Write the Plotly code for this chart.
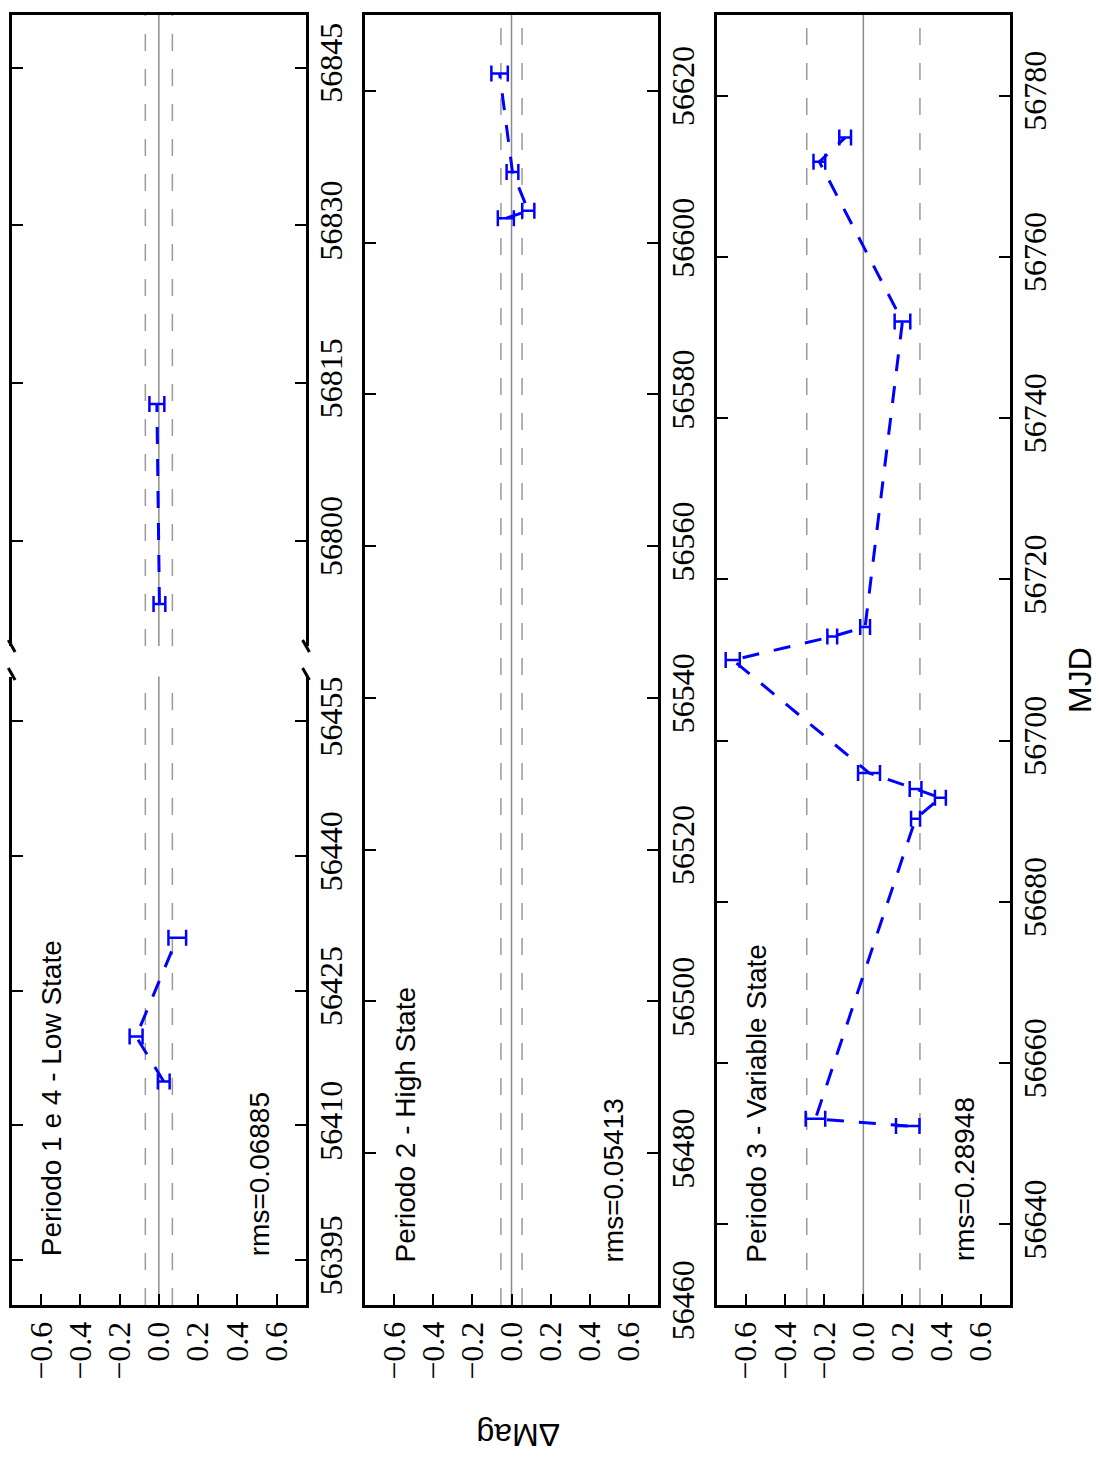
import plotly.graph_objects as go

# ---------------- data ----------------
# Periodo 1 e 4 (broken MJD axis)
p1_mjd = [56414.9, 56419.9, 56430.9]
p1_dmag = [0.025, -0.116, 0.094]
p1_err = [0.030, 0.033, 0.045]

p4_mjd = [56794.0, 56813.0]
p4_dmag = [0.003, -0.010]
p4_err = [0.030, 0.038]

# Periodo 2
p2_mjd = [56603.2, 56604.2, 56609.3, 56622.3]
p2_dmag = [-0.029, 0.086, 0.005, -0.061]
p2_err = [0.041, 0.031, 0.030, 0.042]

# Periodo 3
p3_mjd = [56652.2, 56653.1, 56690.3, 56692.9, 56694.0, 56696.0,
          56710.0, 56712.9, 56714.1, 56752.0, 56771.8, 56774.8]
p3_dmag = [0.227, -0.245, 0.267, 0.394, 0.267, 0.029,
           -0.668, -0.159, 0.009, 0.200, -0.225, -0.093]
p3_err = [0.060, 0.050, 0.023, 0.028, 0.030, 0.056,
          0.036, 0.025, 0.025, 0.040, 0.030, 0.030]

rms_values = [0.06885, 0.05413, 0.28948]
panel_titles = ["Periodo 1 e 4 - Low State", "Periodo 2 - High State", "Periodo 3 - Variable State"]
rms_labels = ["rms=0.06885", "rms=0.05413", "rms=0.28948"]

dmag_ticks = [-0.6, -0.4, -0.2, 0.0, 0.2, 0.4, 0.6]
mjd_ticks_low = [56395, 56410, 56425, 56440, 56455]
mjd_ticks_high = [56800, 56815, 56830, 56845]
mjd_ticks_p2 = [56460, 56480, 56500, 56520, 56540, 56560, 56580, 56600, 56620]
mjd_ticks_p3 = [56640, 56660, 56680, 56700, 56720, 56740, 56760, 56780]

range_low = [56390, 56460]
range_high = [56790, 56850]
range_p2 = [56460, 56630]
range_p3 = [56630, 56790]
dmag_range = [-0.75, 0.75]

# ---------------- layout helpers ----------------
W, H = 1099, 1457
def px(x):
    return x / W
def py(y):
    return 1 - y / H

col1 = [px(11.7), px(306)]
col2 = [px(365), px(658)]
col3 = [px(716.7), px(1010)]
yfull = [py(1305), py(15)]
ylow = [py(1305), py(676.5)]
yhigh = [py(646), py(15)]

BLUE = "#0000ff"
TICKFONT = dict(family="Liberation Serif", size=32, color="black")
TEXTFONT = dict(family="Liberation Sans", size=28, color="black")

fig = go.Figure()

def add_series(x, y, err, xa, ya):
    fig.add_trace(go.Scatter(
        x=x, y=y, xaxis=xa, yaxis=ya, mode="lines",
        line=dict(color=BLUE, width=3, dash="17px,15px"),
        error_x=dict(type="data", array=err, visible=True, color=BLUE,
                     thickness=2.5, width=8),
        showlegend=False, hoverinfo="skip"))

add_series(p1_dmag, p1_mjd, p1_err, "x", "y")
add_series(p4_dmag, p4_mjd, p4_err, "x2", "y2")
add_series(p2_dmag, p2_mjd, p2_err, "x3", "y3")
add_series(p3_dmag, p3_mjd, p3_err, "x4", "y4")

def xaxis(domain, anchor, mirror=True, show=True, side="bottom"):
    return dict(domain=domain, anchor=anchor, range=dmag_range, side=side,
                automargin=False,
                showgrid=False, zeroline=False, showline=True, linewidth=3,
                linecolor="black", mirror=mirror,
                ticks="inside" if show else "", ticklen=11, tickwidth=1.5,
                tickcolor="black", tickvals=dmag_ticks,
                ticktext=[("\u2212" if v < 0 else "") + f"{abs(v):.1f}" for v in dmag_ticks],
                tickangle=-90, tickfont=TICKFONT, showticklabels=show,
                ticklabelstandoff=1)

def yaxis(domain, anchor, rng, ticks):
    return dict(domain=domain, anchor=anchor, range=rng, side="right",
                automargin=False,
                showgrid=False, zeroline=False, showline=True, linewidth=3,
                linecolor="black", mirror="ticks", ticks="inside", ticklen=11,
                tickwidth=1.5, tickcolor="black", tickvals=ticks,
                ticktext=[str(t) for t in ticks], tickangle=-90,
                tickfont=TICKFONT, ticklabelstandoff=-5)

fig.update_layout(
    template="none",
    width=W, height=H, margin=dict(l=0, r=0, t=0, b=0, pad=0, autoexpand=False),
    paper_bgcolor="white", plot_bgcolor="white",
    xaxis=xaxis(col1, "y", mirror=False),
    yaxis=yaxis(ylow, "x", range_low, mjd_ticks_low),
    xaxis2=xaxis(col1, "y2", mirror=False, show=False, side="top"),
    yaxis2=yaxis(yhigh, "x2", range_high, mjd_ticks_high),
    xaxis3=xaxis(col2, "y3"),
    yaxis3=yaxis(yfull, "x3", range_p2, mjd_ticks_p2),
    xaxis4=xaxis(col3, "y4"),
    yaxis4=yaxis(yfull, "x4", range_p3, mjd_ticks_p3),
)

# reference lines (zero and +/- rms) in each subplot
shapes = []
panels = [("x", "y", rms_values[0]), ("x2", "y2", rms_values[0]),
          ("x3", "y3", rms_values[1]), ("x4", "y4", rms_values[2])]
for xa, ya, r in panels:
    yref = ya + " domain"
    shapes.append(dict(type="line", xref=xa, yref=yref, x0=0, x1=0, y0=0, y1=1,
                       line=dict(color="#8c8c8c", width=1.5), layer="below"))
    for v in (-r, r):
        shapes.append(dict(type="line", xref=xa, yref=yref, x0=v, x1=v, y0=0, y1=1,
                           line=dict(color="#9a9a9a", width=1.5, dash="17px,18px"),
                           layer="below"))

# broken-axis marks
for xc in (11.7, 306):
    for yc in (646, 674):
        shapes.append(dict(type="line", xref="paper", yref="paper",
                           x0=px(xc - 3.4), y0=py(yc - 6), x1=px(xc + 3.4), y1=py(yc + 6),
                           line=dict(color="black", width=3)))
fig.update_layout(shapes=shapes)

# annotations
ann = []
col_left = [11.7, 365, 716.7]
title_bottom = [1258, 1265, 1265]
rms_bottom = [1258, 1265, 1263]
for i in range(3):
    ann.append(dict(text=panel_titles[i], xref="paper", yref="paper",
                    x=px(col_left[i] + 39.5), y=py(title_bottom[i]),
                    xanchor="center", yanchor="bottom", textangle=-90,
                    showarrow=False, font=TEXTFONT))
    ann.append(dict(text=rms_labels[i], xref="paper", yref="paper",
                    x=px(col_left[i] + 247.5), y=py(rms_bottom[i]),
                    xanchor="center", yanchor="bottom", textangle=-90,
                    showarrow=False, font=TEXTFONT))
ann.append(dict(text="ΔMag", xref="paper", yref="paper", x=px(518), y=py(1435),
                xanchor="center", yanchor="middle", textangle=180, showarrow=False,
                font=dict(family="Liberation Sans", size=32, color="black")))
ann.append(dict(text="MJD", xref="paper", yref="paper", x=px(1080), y=py(680),
                xanchor="center", yanchor="middle", textangle=-90, showarrow=False,
                font=dict(family="Liberation Sans", size=32, color="black")))
fig.update_layout(annotations=ann)

fig.write_html("out.html")
